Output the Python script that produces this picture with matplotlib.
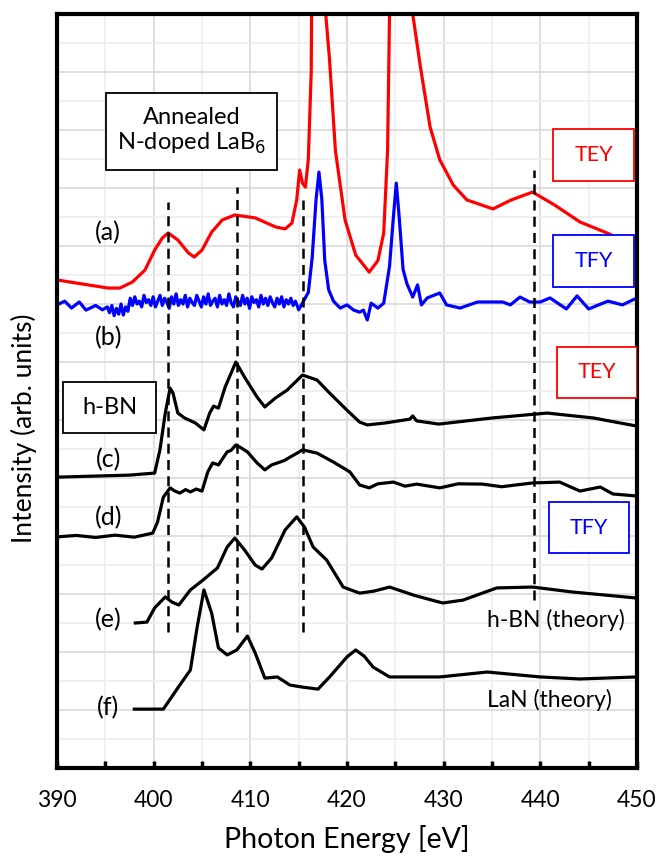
import matplotlib.pyplot as plt
import numpy as np
from matplotlib.patches import Rectangle

plt.rcParams['font.family'] = ['Lato', 'DejaVu Sans']

# (a) TEY, annealed N-doped LaB6 (values above 26 run off the top)
a_x = [390, 393.2, 395.3, 396.5, 397.8, 399.1, 400.1, 400.9, 401.5, 402.5, 403.6, 404.2,
       405.0, 406.0, 407.1, 408.4, 410.5, 412.6, 413.6, 414.3, 414.8, 415.1, 415.4, 415.7,
       416.0, 416.3, 416.6, 417.6, 417.8, 418.2, 418.8, 419.8, 420.9, 422.3, 423.2, 423.8,
       424.2, 424.4, 424.6, 426.6, 426.8, 427.6, 428.6, 429.6, 431, 432.4, 435.1, 437,
       439.2, 441.5, 444.1, 446.9, 450]
a_y = [16.83, 16.66, 16.55, 16.55, 16.76, 17.17, 17.86, 18.28, 18.45, 18.21, 17.76, 17.62,
       17.86, 18.48, 18.9, 19.07, 18.97, 18.66, 18.59, 18.79, 19.59, 20.62, 20.17, 20.03,
       21.0, 24.0, 40, 40, 26.0, 24.4, 21.3, 18.9, 17.69, 17.1, 17.5, 18.45,
       21.3, 26, 40, 40, 26, 24.17, 22.1, 20.97, 20.1, 19.59, 19.28, 19.59,
       19.86, 19.41, 18.83, 18.45, 17.97]

# (b) TFY, annealed N-doped LaB6
b_x1 = [390, 390.8, 391.5, 392.3, 393, 394, 394.7]
b_y1 = [15.97, 16.1, 15.86, 16.07, 15.79, 15.95, 15.8]
b_noise = [15.9, 15.7, 15.95, 15.6, 15.85, 15.65, 16.0, 15.62, 15.9, 15.75,
           16.2, 15.95, 16.25, 16.0, 16.1, 15.9, 16.3, 16.05, 16.15, 15.95,
           16.25, 15.9, 16.1, 16.3, 15.95, 16.2, 16.05, 15.85, 16.25, 16.0,
           16.35, 15.95, 16.15, 16.0, 16.3, 15.9, 16.2, 16.05, 15.95, 16.3,
           16.1, 15.9, 16.25, 16.0, 16.35, 15.95, 16.1, 16.2, 15.9, 16.3,
           16.0, 16.15, 15.95, 16.35, 16.05, 15.9, 16.25, 16.1, 15.95, 16.3,
           16.0, 16.2, 15.85, 16.25, 16.05, 16.15, 15.9, 16.3, 16.0, 16.2,
           15.95, 16.25, 16.05, 15.9, 16.2, 16.0, 16.25, 15.9, 16.15, 16.0,
           16.2, 15.95, 16.1, 15.9]
b_x2 = [415.0, 415.5, 416.0, 416.4, 416.8, 417.1, 417.4, 417.7, 418.1, 418.6, 419.3, 420,
        420.7, 421.3, 421.7, 422.1, 422.5, 423.2, 423.8, 424.4, 424.8, 425.1, 425.4, 425.8,
        426.2, 426.8, 427.3, 427.7, 428.3, 429.6, 430.3, 431.7, 433.5, 436.1, 436.9, 437.9,
        438.9, 440.0, 441.0, 442.7, 443.8, 445, 447, 448.5, 450]
b_y2 = [15.8, 16.1, 16.4, 17.6, 19.6, 20.55, 19.6, 17.5, 16.5, 16.1, 15.86, 15.97,
        15.79, 15.72, 15.79, 15.45, 16.03, 15.86, 16.03, 17.3, 19.0, 20.17, 19.0, 17.2,
        16.7, 16.24, 16.66, 15.97, 16.21, 16.38, 15.97, 15.86, 16.07, 16.07, 15.97, 16.24,
        16.07, 16.07, 16.21, 15.83, 16.28, 15.83, 16.10, 15.97, 16.21]

# (c) h-BN TEY
c_x = [390, 397.5, 400.1, 400.65, 401.2, 401.7, 402.0, 402.5, 403.2, 404.3, 405.2, 405.8,
       406.2, 406.7, 407.4, 408.5, 409.4, 410.7, 411.5, 412.6, 413.8, 415.4, 416.9, 418.2,
       420.0, 421.3, 422.1, 424, 426.5, 426.8, 427.2, 429.5, 435, 440.7, 445.5, 450]
c_y = [10.03, 10.1, 10.17, 10.97, 12.24, 13.1, 12.93, 12.24, 12.07, 11.9, 11.66, 12.24,
       12.48, 12.41, 13.14, 14.0, 13.48, 12.79, 12.45, 12.76, 13.03, 13.55, 13.38, 12.93,
       12.34, 11.93, 11.83, 11.9, 12.03, 12.14, 11.97, 11.86, 12.07, 12.24, 12.07, 11.79]

# (d) h-BN TFY
d_x = [390, 392, 394, 396, 398, 399.9, 400.4, 401.0, 401.7, 402.2, 402.7, 403.3, 403.8,
       404.4, 405.0, 405.6, 406.1, 406.7, 407.1, 407.6, 408.0, 408.5, 409.0, 409.7, 410.7,
       411.5, 412.2, 412.8, 413.5, 414.1, 414.8, 415.4, 416.9, 418.6, 420.3, 421.3, 422.3,
       423.2, 424.8, 426, 427.2, 429.6, 431.5, 434.0, 436, 439.2, 442.0, 444.1, 446.2,
       447.5, 450]
d_y = [7.97, 8.02, 7.95, 8.03, 7.96, 8.1, 8.48, 9.34, 9.66, 9.55, 9.48, 9.6, 9.52,
       9.62, 9.55, 10.21, 10.52, 10.45, 10.65, 10.9, 10.95, 11.14, 11.05, 10.9, 10.52,
       10.28, 10.45, 10.52, 10.6, 10.72, 10.85, 10.97, 10.86, 10.55, 10.21, 9.76, 9.66,
       9.8, 9.86, 9.72, 9.79, 9.66, 9.8, 9.79, 9.7, 9.83, 9.86, 9.55, 9.69,
       9.45, 9.38]

# (e) h-BN theory
e_x = [398.1, 399.3, 400.1, 401.2, 401.9, 402.6, 403.8, 405.1, 406.6, 407.6, 408.4, 409.4,
       410.5, 411.2, 412.2, 413.6, 414.8, 415.6, 416.5, 417.9, 419.6, 421.3, 422.8, 424.4,
       427, 429.9, 432, 435.5, 439.2, 443.3, 450]
e_y = [5.0, 5.03, 5.52, 5.9, 5.72, 5.62, 6.14, 6.48, 6.9, 7.62, 7.93, 7.52,
       7.0, 6.86, 7.24, 8.21, 8.66, 8.31, 7.62, 7.17, 6.24, 6.03, 6.1, 6.24,
       5.95, 5.69, 5.79, 6.21, 6.24, 6.07, 5.86]

# (f) LaN theory
f_x = [398, 401.0, 402.7, 403.8, 404.5, 405.2, 406.0, 406.7, 407.6, 408.6, 409.7, 410.5,
       411.5, 412.8, 414.1, 415.4, 417.0, 418.2, 420.0, 420.9, 421.8, 422.7, 424.4, 429.6,
       434.5, 440, 444.1, 450]
f_y = [2.03, 2.03, 2.86, 3.38, 4.86, 6.14, 5.34, 4.14, 3.9, 4.07, 4.55, 3.97,
       3.1, 3.14, 2.86, 2.79, 2.72, 3.14, 3.83, 4.07, 3.85, 3.48, 3.14, 3.14,
       3.31, 3.14, 3.07, 3.14]

# dashed guide lines: energy, bottom, top
guide_x = [401.5, 408.6, 415.4, 439.3]
guide_lo = [4.69, 4.69, 4.69, 5.79]
guide_hi = [19.52, 20.03, 19.59, 20.62]

fig = plt.figure(figsize=(6.62, 8.56), dpi=100)
ax = fig.add_axes([0.0861, 0.1028, 0.8761, 0.8808])

lw = 2.3
ax.plot(a_x, a_y, color='red', lw=lw)
ax.plot(b_x1 + list(np.linspace(395.2, 414.9, len(b_noise))) + b_x2,
        b_y1 + b_noise + b_y2, color='blue', lw=lw)
for xs, ys in [(c_x, c_y), (d_x, d_y), (e_x, e_y), (f_x, f_y)]:
    ax.plot(xs, ys, color='black', lw=lw)
ax.vlines(guide_x, guide_lo, guide_hi, colors='black', linestyles=(0, (4, 2.5)), lw=1.8)

# labels
for lab, yy in zip(['(a)', '(b)', '(c)', '(d)', '(e)', '(f)'],
                   [18.45, 14.83, 10.62, 8.62, 5.1, 2.07]):
    ax.text(395.3, yy, lab, fontsize=18, ha='center', va='center')
ax.text(441.6, 5.1, 'h-BN (theory)', fontsize=16.5, ha='center', va='center')
ax.text(440.9, 2.34, 'LaN (theory)', fontsize=16.5, ha='center', va='center')

# boxes: x0, x1, y0, y1, text, colour
boxes = [(395.07, 412.76, 20.62, 23.28, 'Annealed\nN-doped LaB$_6$', 'black'),
         (390.62, 400.24, 11.55, 13.31, 'h-BN', 'black'),
         (441.31, 449.69, 20.24, 22.03, 'TEY', 'red'),
         (441.31, 449.69, 16.59, 18.38, 'TFY', 'blue'),
         (441.72, 450.0, 12.76, 14.52, 'TEY', 'red'),
         (440.9, 449.17, 7.41, 9.17, 'TFY', 'blue')]
for x0, x1, y0, y1, txt, col in boxes:
    ax.add_patch(Rectangle((x0, y0), x1 - x0, y1 - y0, fill=True, facecolor='white',
                           edgecolor=col, lw=1.3, zorder=3))
    ax.text((x0 + x1) / 2, (y0 + y1) / 2, txt, color=col,
            fontsize=17 if col == 'black' else 15.5,
            ha='center', va='center', zorder=4, linespacing=1.1)

ax.set_xlim(390, 450)
ax.set_ylim(0, 26)
ax.set_xticks(range(390, 451, 10))
ax.set_xticks(range(395, 450, 10), minor=True)
ax.set_yticks(range(0, 27, 2))
ax.set_yticks(range(1, 26, 2), minor=True)
ax.grid(which='major', color='#d9d9d9', lw=1.2)
ax.grid(which='minor', color='#eeeeee', lw=1.2)
ax.set_axisbelow(True)
ax.tick_params(axis='x', which='both', direction='in', length=5, width=2.5,
               labelsize=16.5, pad=16)
ax.tick_params(axis='y', which='both', left=False, labelleft=False)
for s in ax.spines.values():
    s.set_linewidth(3)

ax.set_xlabel('Photon Energy [eV]', fontsize=20.5)
ax.xaxis.set_label_coords(0.5, -0.076)
ax.set_ylabel('Intensity (arb. units)', fontsize=19)
ax.yaxis.set_label_coords(-0.035, 0.451)

plt.savefig('out.png', dpi=100)
